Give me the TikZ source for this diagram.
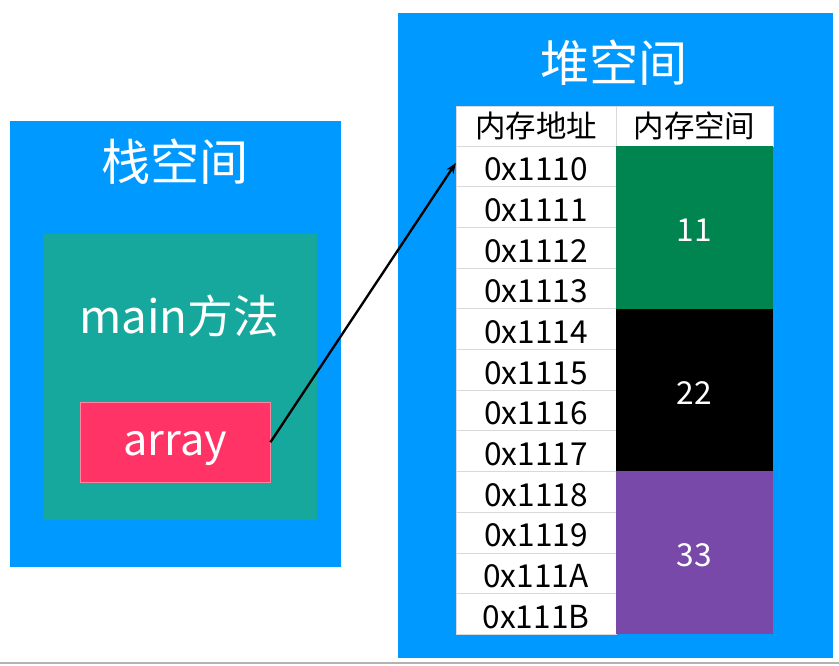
\documentclass[tikz,border=0pt]{standalone}
\usepackage{fontspec}
\setmainfont{Noto Sans CJK SC}
\usepackage{tikz}
\usetikzlibrary{arrows.meta, positioning}
\definecolor{PanelBlue}{HTML}{0099FF}
\definecolor{MethodTeal}{HTML}{16A89C}
\definecolor{RefRed}{HTML}{FF3366}
\definecolor{CellGreen}{HTML}{008450}
\definecolor{CellPurple}{HTML}{7849A8}
\definecolor{GridGray}{HTML}{D9D9D9}

\begin{document}
\begin{tikzpicture}[
        x=0.03cm, y=-0.03cm,
        panel/.style={rectangle, anchor=north west, inner sep=0pt, draw=none},
        title/.style={text=white, font=\fontsize{42}{46}\selectfont},
        addr/.style={rectangle, draw=GridGray, fill=white, inner sep=0pt,
                     minimum width=4.8cm, minimum height=1.22cm,
                     text height=0.87cm, text depth=0pt,
                     font=\fontsize{27}{30}\selectfont},
        val/.style={rectangle, inner sep=0pt, text=white,
                    minimum width=4.71cm, minimum height=4.88cm,
                    text height=0.85cm, text depth=0pt,
                    font=\fontsize{27}{30}\selectfont},
        >=Stealth, line width=0.35pt
      ]
        \useasboundingbox[fill=white] (0,0) rectangle (839,665);
        % Stack side
        \node[panel, fill=PanelBlue, minimum width=9.93cm, minimum height=13.38cm]
          (stack) at (10,121) {};
        \node[title] (stacktitle) at (175,162) {栈空间};
        \node[panel, fill=MethodTeal, minimum width=8.22cm, minimum height=8.58cm]
          (main) at (43,234) {};
        \node[text=white, font=\fontsize{39}{42}\selectfont] (mainlbl) at (179,316) {main方法};
        \node[panel, fill=RefRed, draw=RefRed!60!white, minimum width=5.7cm,
              minimum height=2.4cm] (array) at (80,402) {};
        \node[text=white, font=\fontsize{37}{40}\selectfont] (arraylbl)
          at ([yshift=-0.2cm]array.center) {array};
        % Heap side
        \node[panel, fill=PanelBlue, minimum width=13.05cm, minimum height=19.35cm]
          (heap) at (398,13) {};
        \node[title] (heaptitle) at (614,63) {堆空间};
        % Table header
        \node[addr, minimum height=1.2cm, text height=0.7cm,
              font=\fontsize{26}{30}\selectfont] (H1) at (536,126) {内存地址};
        \node[addr, minimum width=4.71cm, minimum height=1.2cm, text height=0.7cm,
              font=\fontsize{26}{30}\selectfont] (H2) at (694.5,126) {内存空间};
        % Address column
        \foreach \i/\lbl in {0/0x1110, 1/0x1111, 2/0x1112, 3/0x1113,
                             4/0x1114, 5/0x1115, 6/0x1116, 7/0x1117,
                             8/0x1118, 9/0x1119, 10/0x111A, 11/0x111B}{
          \node[addr] (A\i) at (536, {146 + (\i+0.5)*40.67}) {\lbl};
        }
        % Value column
        \foreach \i/\col/\lbl in {0/CellGreen/11, 1/black/22, 2/CellPurple/33}{
          \node[val, fill=\col] (V\i) at (694.5, {146 + (\i+0.5)*162.67}) {\lbl};
        }
        % Reference arrow
        \draw[->, line width=2pt, >={Stealth[length=9pt, width=7pt]}]
          (array.east) -- ([yshift=0.1cm]A0.west);
        % Screen edge
        \draw[gray!60, line width=1pt] (0,663) -- (839,663);
      \end{tikzpicture}
\end{document}
